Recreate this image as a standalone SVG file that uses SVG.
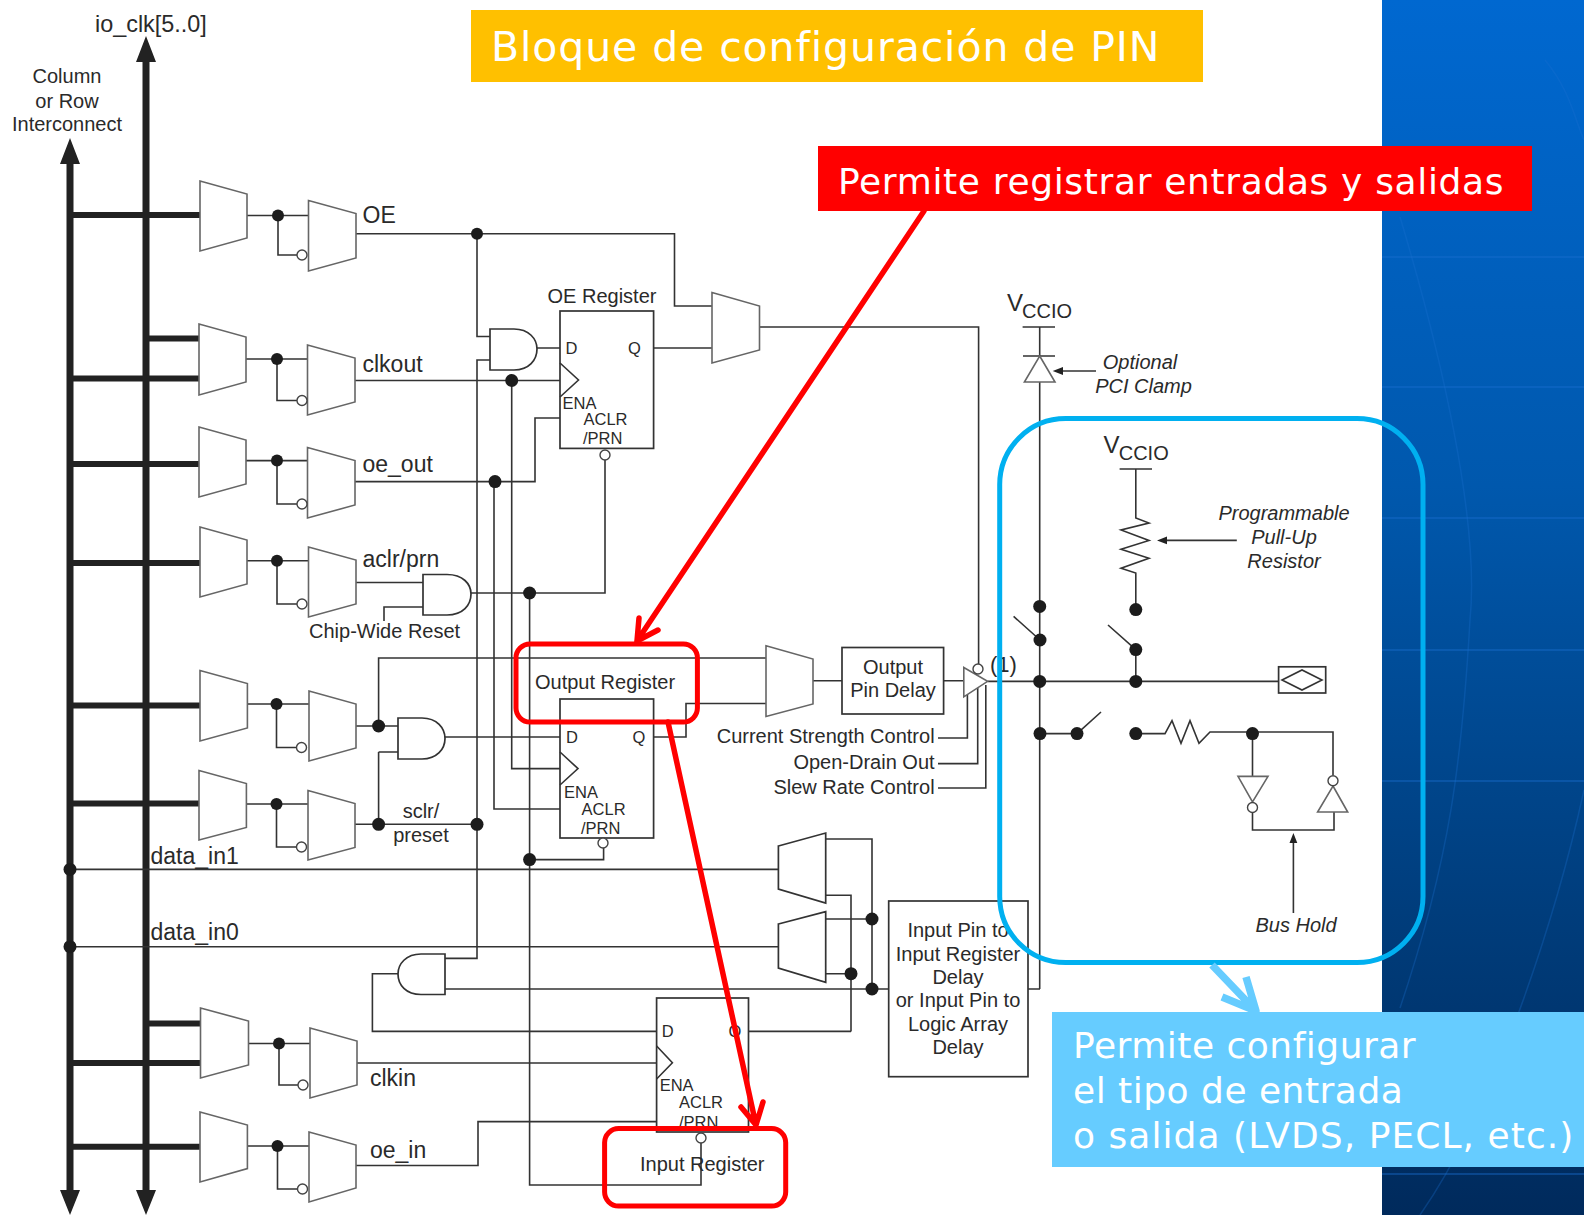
<svg xmlns="http://www.w3.org/2000/svg" width="1584" height="1215" viewBox="0 0 1584 1215">
<style>
text{font-family:"Liberation Sans",Arial,sans-serif;font-size:20px;fill:#2a2a2a}
.s{font-size:23px}.r{font-size:16.5px}.i{font-style:italic}.m{text-anchor:middle}.e{text-anchor:end}
.a{font-family:"DejaVu Sans",Verdana,sans-serif;fill:#fff}
.w{fill:none;stroke:#333;stroke-width:1.6}
.t{fill:none;stroke:#222;stroke-width:6}
.b{fill:none;stroke:#222;stroke-width:7}
.m1{fill:#fff;stroke:#666;stroke-width:1.6}
.g{fill:#fff;stroke:#333;stroke-width:1.7}
.d{fill:#1c1c1c}
.o{fill:#fff;stroke:#444;stroke-width:1.4}
.h{fill:#222}
.bg{stroke:#1a6fd0;stroke-width:1.5;opacity:.55;fill:none}
.bc{stroke:#1a6fd0;stroke-width:1.5;opacity:.3;fill:none}
.rr{fill:none;stroke:#f00;stroke-width:5}
.ra{fill:none;stroke:#f00;stroke-width:5.5;stroke-linecap:round;stroke-linejoin:round}
</style>
<defs>
<linearGradient id="bluebg" x1="0" y1="0" x2="0" y2="1">
<stop offset="0" stop-color="#0068d0"/><stop offset=".4" stop-color="#0058ad"/><stop offset=".75" stop-color="#003d7c"/><stop offset="1" stop-color="#002a5c"/>
</linearGradient>
</defs>
<rect width="1584" height="1215" fill="#fff"/>
<g id="background">
<rect x="1382" y="0" width="202" height="1215" fill="url(#bluebg)"/>
<path class="bg" d="M1382 257H1584M1382 387H1584M1382 518H1584M1382 650H1584M1382 781H1584M1382 1174H1584"/>
<path class="bc" d="M1400 217C1440 350 1480 520 1470 620C1462 760 1450 860 1400 1008"/>
<path class="bc" d="M1545 60C1570 90 1575 120 1584 140"/>
<path class="bc" d="M1584 790C1560 900 1500 1100 1420 1215"/>
</g>
<g id="connectors">
<path class="b" d="M70 1192V160M146 1192V58"/>
<path class="t" d="M70 215H200M146 338.500H199M70 378.500H199M70 464H199M70 563H200M70 705.500H200M70 803.500H199M146 1023.500H200M70 1063H200M70 1146.700H200"/>
<path class="h" d="M70 138L80 164H60ZM146 36L156 62H136ZM70 1215L60 1190H80ZM146 1215L136 1190H156Z"/>
<path class="w" d="M247 215.500H308M278 215.500V255H297M246 359H307M277 359V400.500H297M246 460.600H307M277 460.600V504H297M247 560.700H308M277 560.700V604H297M247 704H309M276.500 704V747.500H297M246 804H308M276.500 804V847H297M248 1043.500H310M279 1043.500V1085H298M247 1146H309M277.500 1146V1189H298"/>
<path class="w" d="M356 233.700H674.500V306H712M477 233.700V336.500H490M490 360H477V958.400H445M537 348H560M653.600 348H712M759.500 327H978.600V664"/>
<path class="w" d="M352 380.500H560M511.700 380.500V768.600H560M352 481.600H535V418H560M494 481.600V809H560"/>
<path class="w" d="M356 582.500H423M471 593H605V453M529.600 593V1185H701V1143M384 621V607H423"/>
<path class="w" d="M356 726H398M378.600 726V658H766M378.600 752H398M378.600 752V824.300M445 737H560M653.600 737H686V703.500H766M355 824.300H477M529.600 859.600H603.600V848"/>
<path class="w" d="M70 869.400H779M70 946.700H779"/>
<path class="w" d="M398 973.700H372.400V1031.400H656.600M748.500 1031.400H851M357 1063H656.600M356 1165.500H478V1121.600H656.600"/>
<path class="w" d="M445 989H888.700M825.700 839H872V989M825.700 895.300H851V1031.400M825.700 919H872M825.700 973.700H851M1028 989H1040"/>
<path class="w" d="M813 680.700H842M943.600 680.700H963.800M987.600 681.400H1278.600M938 738H967.400V692M938 763.600H977.700V685M938 788H985.800V685"/>
<path class="w" d="M1022.600 327H1055M1039.700 327V356M1039.700 382V989M1023 356H1055M1013.600 616.400L1040 640M1108 625L1135.800 649.600M1135.800 649.600V680.700"/>
<path class="w" d="M1096 371H1060M1119.600 469H1152M1135.800 469V518L1149 523L1121 530L1149 540.400L1121 549.300L1149 558.200L1121 568.200L1135.800 573V609.600M1236.800 540.400H1164"/>
<path class="w" d="M1040 733.600H1077L1101 712M1135.800 733.600H1165L1172 720.700L1181 743.400L1190 720.700L1199 743.400L1210 732H1252.500H1333V775M1252.500 733.600V776.400M1252.500 813V830H1334V812M1293.400 913V840"/>
<path class="h" d="M1052.700 371L1063 367V375ZM1157 540.400L1167 536.500V544.300ZM1293.400 833L1289.500 843H1297.300Z"/>
</g>
<g id="mux-oe-1"><polygon class="m1" points="200,181 247,194 247,238 200,251"/><polygon class="m1" points="308.500,200.500 356,213.500 356,258 308.500,271"/><circle class="d" cx="278" cy="215.500" r="6"/><circle class="o" cx="302" cy="255" r="5"/></g>
<g id="mux-clkout"><polygon class="m1" points="199,324 246,337 246,382 199,395"/><polygon class="m1" points="307.500,345 355,358 355,402 307.500,415"/><circle class="d" cx="277" cy="359" r="6"/><circle class="o" cx="302" cy="400.500" r="5"/></g>
<g id="mux-oe-out"><polygon class="m1" points="199,427 246,440 246,484 199,497"/><polygon class="m1" points="307.500,447.600 355,460.600 355,505 307.500,518"/><circle class="d" cx="277" cy="460.600" r="6"/><circle class="o" cx="302" cy="504" r="5"/></g>
<g id="mux-aclr"><polygon class="m1" points="200,527 247,540 247,584 200,597"/><polygon class="m1" points="308.500,547 356,560 356,604 308.500,617"/><circle class="d" cx="277" cy="560.700" r="6"/><circle class="o" cx="302" cy="604" r="5"/></g>
<g id="mux-d1"><polygon class="m1" points="200,670.600 247.400,683.500 247.400,728 200,741"/><polygon class="m1" points="309,691 356,704 356,748 309,761"/><circle class="d" cx="276.500" cy="704" r="6"/><circle class="o" cx="301.500" cy="747.500" r="5"/></g>
<g id="mux-sclr"><polygon class="m1" points="199,770.600 246.400,783.500 246.400,827.500 199,840"/><polygon class="m1" points="308,790.600 355,803.500 355,847.500 308,860"/><circle class="d" cx="276.500" cy="804" r="6"/><circle class="o" cx="301.500" cy="847" r="5"/></g>
<g id="mux-clkin"><polygon class="m1" points="200.500,1008 248.500,1021 248.500,1065 200.500,1078"/><polygon class="m1" points="310,1028 357,1041 357,1085 310,1098"/><circle class="d" cx="279" cy="1043.500" r="6"/><circle class="o" cx="303" cy="1085" r="5"/></g>
<g id="mux-oe-in"><polygon class="m1" points="200,1112 247.400,1125 247.400,1168.600 200,1182"/><polygon class="m1" points="309,1132 356,1145 356,1188 309,1202"/><circle class="d" cx="277.500" cy="1146" r="6"/><circle class="o" cx="302.500" cy="1189" r="5"/></g>
<g id="mux-oe-2"><polygon class="m1" points="712,292.500 759.500,306 759.500,350 712,363"/></g>
<g id="mux-out"><polygon class="m1" points="766,645.700 813,659 813,704 766,716.400"/></g>
<g id="mux-in1"><polygon class="g" points="778.400,846 825.700,833 825.700,903 778.400,889"/></g>
<g id="mux-in0"><polygon class="g" points="778.400,924 825.700,911.700 825.700,982.300 778.400,968"/></g>
<g id="and-oe"><path class="g" d="M490 329H514C529 329 537 339 537 349C537 360 529 370 514 370H490Z"/></g>
<g id="and-aclr"><path class="g" d="M423 574.500H447C463 574.500 471 584 471 594C471 605 463 615 447 615H423Z"/></g>
<g id="and-out"><path class="g" d="M398 718H422C437 718 445 728 445 738.500C445 749 437 759 422 759H398Z"/></g>
<g id="and-in"><path class="g" d="M445 954H421C406 954 398 964 398 974C398 985 406 994.500 421 994.500H445Z"/></g>
<g id="oe-register"><rect class="g" x="560" y="311" width="93.600" height="137.400"/><polyline class="w" points="560,363 578.500,380 560,397"/><circle class="o" cx="605" cy="455" r="5"/>
<text x="602" y="302.500" class="m">OE Register</text><text class="r" x="565.600" y="354">D</text><text class="r" x="628" y="354">Q</text><text class="r" x="562.500" y="409">ENA</text><text class="r" x="583.500" y="425">ACLR</text><text class="r" x="583" y="444">/PRN</text></g>
<g id="output-register"><rect class="g" x="560" y="699" width="93.600" height="139"/><polyline class="w" points="560,752 578,768.600 560,785"/><circle class="o" cx="603" cy="843" r="5"/>
<text x="535" y="689">Output Register</text><text class="r" x="566" y="743">D</text><text class="r" x="632.600" y="743">Q</text><text class="r" x="564" y="798">ENA</text><text class="r" x="581.600" y="814.500">ACLR</text><text class="r" x="581" y="834">/PRN</text></g>
<g id="input-register"><rect class="g" x="656.600" y="998" width="91.900" height="134"/><polyline class="w" points="656.600,1046 672.400,1062.700 656.600,1079"/><circle class="o" cx="701" cy="1138" r="5"/>
<text x="640" y="1171">Input Register</text><text class="r" x="661.700" y="1036.500">D</text><text class="r" x="728.500" y="1036.500">Q</text><text class="r" x="659.700" y="1091">ENA</text><text class="r" x="679" y="1108">ACLR</text><text class="r" x="679" y="1127.500">/PRN</text></g>
<g id="output-pin-delay"><rect class="g" x="842" y="647.500" width="101.600" height="66.500"/><text class="m" x="893" y="673.600">Output</text><text class="m" x="893" y="696.700">Pin Delay</text></g>
<g id="input-pin-delay"><rect class="g" x="888.700" y="901" width="139.300" height="175.700"/>
<text class="m" x="958" y="936.700">Input Pin to</text><text class="m" x="958" y="961">Input Register</text><text class="m" x="958" y="984">Delay</text><text class="m" x="958" y="1007">or Input Pin to</text><text class="m" x="958" y="1030.700">Logic Array</text><text class="m" x="958" y="1054">Delay</text></g>
<g id="output-buffer"><polygon class="m1" points="963.800,667.500 987.600,681.400 963.800,696.800"/><circle class="o" cx="978" cy="669" r="5"/></g>
<g id="pci-clamp"><polygon class="m1" points="1039.700,356 1055,382 1024.400,382"/></g>
<g id="pin"><rect class="g" x="1278.600" y="666.800" width="47.100" height="26.200"/><polygon class="w" points="1282,680 1302,670 1322,680 1302,690"/></g>
<g id="bus-hold"><polygon class="m1" points="1238,776.400 1268,776.400 1252.500,802"/><circle class="o" cx="1252.500" cy="807.500" r="5"/><polygon class="m1" points="1333,786 1347.700,812 1317.600,812"/><circle class="o" cx="1333" cy="780.700" r="5"/></g>
<g id="junctions">
<circle class="d" cx="477" cy="233.700" r="6"/><circle class="d" cx="511.700" cy="380.500" r="6.500"/><circle class="d" cx="495" cy="481.600" r="6.500"/><circle class="d" cx="529.600" cy="593" r="6.500"/><circle class="d" cx="378.600" cy="726" r="6.500"/><circle class="d" cx="378.600" cy="824.300" r="6.500"/><circle class="d" cx="477" cy="824.300" r="6.500"/><circle class="d" cx="529.600" cy="859.600" r="6.500"/><circle class="d" cx="70" cy="869.400" r="6.500"/><circle class="d" cx="70" cy="946.700" r="6.500"/>
<circle class="d" cx="872" cy="919" r="6.500"/><circle class="d" cx="851" cy="973.700" r="6.500"/><circle class="d" cx="872" cy="989" r="6.500"/>
<circle class="d" cx="1039.700" cy="606.400" r="6.500"/><circle class="d" cx="1135.800" cy="609.600" r="6.500"/><circle class="d" cx="1040" cy="640" r="6.500"/><circle class="d" cx="1135.800" cy="649.600" r="6.500"/><circle class="d" cx="1039.700" cy="681.400" r="6.500"/><circle class="d" cx="1135.800" cy="681.400" r="6.500"/><circle class="d" cx="1040" cy="733.600" r="6.500"/><circle class="d" cx="1077" cy="733.600" r="6.500"/><circle class="d" cx="1135.800" cy="733.600" r="6.500"/><circle class="d" cx="1252.500" cy="733.600" r="6.500"/>
</g>
<g id="labels">
<text x="95" y="32.400" style="font-size:23.400px">io_clk[5..0]</text>
<text class="m" x="67" y="83">Column</text><text class="m" x="67" y="107.500">or Row</text><text class="m" x="67" y="130.500">Interconnect</text>
<text class="s" x="362.500" y="223.400">OE</text><text class="s" x="362.500" y="371.700">clkout</text><text class="s" x="362.500" y="471.700">oe_out</text><text class="s" x="362.500" y="566.600">aclr/prn</text>
<text x="309" y="638">Chip-Wide Reset</text>
<text class="m" x="421" y="817.600">sclr/</text><text class="m" x="421" y="842">preset</text>
<text class="s" x="150.500" y="863.500">data_in1</text><text class="s" x="150.500" y="940">data_in0</text>
<text class="s" x="370" y="1086">clkin</text><text class="s" x="370" y="1157.600">oe_in</text>
<text class="e" x="934.600" y="743">Current Strength Control</text><text class="e" x="934.600" y="769">Open-Drain Out</text><text class="e" x="934.600" y="794">Slew Rate Control</text>
<text x="990" y="672" style="font-size:22px">(1)</text>
<text x="1007" y="311" style="font-size:24px">V</text><text x="1022" y="318">CCIO</text>
<text x="1103.400" y="453" style="font-size:24px">V</text><text x="1118.700" y="460">CCIO</text>
<text class="i m" x="1140" y="369">Optional</text><text class="i m" x="1143.500" y="393">PCI Clamp</text>
<text class="i m" x="1284" y="520">Programmable</text><text class="i m" x="1284" y="544">Pull-Up</text><text class="i m" x="1284" y="568">Resistor</text>
<text class="i" x="1255.500" y="931.700">Bus Hold</text>
</g>
<g id="annotation-title"><rect x="471" y="10" width="732" height="72" fill="#ffc000"/><text class="a" x="491" y="61" style="font-size:41px;letter-spacing:.9px">Bloque de configuración de PIN</text></g>
<g id="annotation-register"><rect x="818" y="146" width="714" height="65" fill="#f00"/><text class="a" x="838" y="194" style="font-size:36px;letter-spacing:.65px">Permite registrar entradas y salidas</text>
<rect class="rr" x="516" y="644" width="181.400" height="78" rx="14"/><rect class="rr" x="604.600" y="1128.600" width="181.100" height="77.400" rx="14"/>
<path class="ra" d="M924 211L637 641M639 618L637 641L658 630M668 722L756 1125M741 1107L756 1125L763 1102"/></g>
<g id="annotation-config"><rect x="999.700" y="418.600" width="423.300" height="544" rx="66" ry="66" fill="none" stroke="#00b0f0" stroke-width="5"/>
<path fill="none" stroke="#66ccff" stroke-width="7.500" stroke-linejoin="round" d="M1212 965L1256 1011M1222 997L1256 1011L1246 977"/>
<rect x="1052" y="1012" width="532" height="155" fill="#66ccff"/>
<text class="a" x="1073" y="1058" style="font-size:36px;letter-spacing:.5px">Permite configurar</text><text class="a" x="1073" y="1103" style="font-size:36px;letter-spacing:.5px">el tipo de entrada</text><text class="a" x="1073" y="1148" style="font-size:36px;letter-spacing:1.05px">o salida (LVDS, PECL, etc.)</text></g>
</svg>
